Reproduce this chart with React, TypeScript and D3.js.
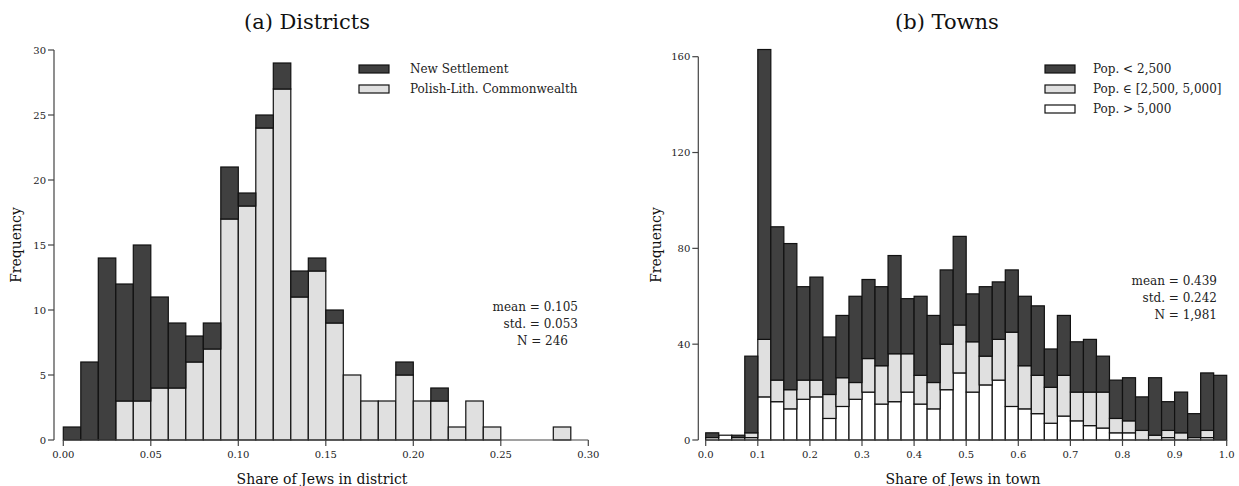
import React from 'react';
import * as d3 from 'd3';

// (a) Districts: 30 bins of width 0.01 on [0, 0.30]
const districtBinWidth = 0.01;
const districtPLC = [0, 0, 0, 3, 3, 4, 4, 6, 7, 17, 18, 24, 27, 11, 13, 9, 5, 3, 3, 5, 3, 3, 1, 3, 1, 0, 0, 0, 1, 0];
const districtNewSettlement = [1, 6, 14, 9, 12, 7, 5, 2, 2, 4, 1, 1, 2, 2, 1, 1, 0, 0, 0, 1, 0, 1, 0, 0, 0, 0, 0, 0, 0, 0];
const districtXTicks = [0, 0.05, 0.1, 0.15, 0.2, 0.25, 0.3];
const districtYTicks = [0, 5, 10, 15, 20, 25, 30];
const districtStats = ['mean = 0.105', 'std. = 0.053', 'N = 246'];

// (b) Towns: 40 bins of width 0.025 on [0, 1]
const townBinWidth = 0.025;
const townLarge = [1, 2, 1, 1, 18, 16, 13, 17, 18, 9, 14, 17, 20, 15, 16, 20, 15, 13, 21, 28, 20, 23, 25, 14, 13, 11, 7, 10, 8, 6, 5, 3, 3, 0, 0, 1, 0, 1, 1, 0];
const townMedium = [0, 0, 0, 2, 24, 9, 8, 8, 7, 10, 12, 7, 14, 16, 20, 16, 12, 11, 19, 20, 21, 12, 17, 31, 18, 16, 15, 17, 12, 14, 15, 6, 5, 4, 2, 3, 3, 0, 3, 0];
const townSmall = [2, 0, 1, 32, 121, 64, 61, 39, 43, 24, 26, 36, 33, 33, 41, 23, 33, 28, 31, 37, 20, 29, 24, 26, 29, 29, 16, 25, 21, 22, 15, 16, 18, 14, 24, 12, 17, 10, 24, 27];
const townXTicks = [0, 0.1, 0.2, 0.3, 0.4, 0.5, 0.6, 0.7, 0.8, 0.9, 1.0];
const townYTicks = [0, 40, 80, 120, 160];
const townStats = ['mean = 0.439', 'std. = 0.242', 'N = 1,981'];

const DARK = '#404040';
const LIGHT = '#e0e0e0';
const WHITE = '#ffffff';
const FONT = '"DejaVu Serif", "Liberation Serif", serif';

type Layer = { values: number[]; fill: string; label: string };

function Histogram({ layers, binWidth, x, y, spineX, xTicks, yTicks, xFormat, yTop }: any) {
  const n = layers[0].values.length;
  const bins = d3.range(n);
  const [y0] = y.range();
  const [xa, xb] = x.range();
  const cum = bins.map(() => 0);
  const rects: any[] = [];
  layers.forEach((layer: Layer, li: number) => {
    layer.values.forEach((v, i) => {
      if (v <= 0) return;
      const base = cum[i];
      cum[i] += v;
      rects.push(
        <rect
          key={`${li}-${i}`}
          x={x(i * binWidth)}
          width={x((i + 1) * binWidth) - x(i * binWidth)}
          y={y(base + v)}
          height={y(base) - y(base + v)}
          fill={layer.fill}
          stroke="#111"
          strokeWidth={1.2}
        />
      );
    });
  });
  return (
    <g>
      {rects}
      {/* x axis */}
      <line x1={xa} x2={xb} y1={y0} y2={y0} stroke="#444" strokeWidth={1.2} />
      {xTicks.map((t: number) => (
        <g key={t} transform={`translate(${x(t)},${y0})`}>
          <line y1={0} y2={6} stroke="#444" strokeWidth={1.2} />
          <text y={18} textAnchor="middle" fontSize={10} fill="#222" fontFamily={FONT}>
            {xFormat(t)}
          </text>
        </g>
      ))}
      {/* y axis */}
      <line x1={spineX} x2={spineX} y1={y0} y2={y(yTop)} stroke="#444" strokeWidth={1.2} />
      {yTicks.map((t: number) => (
        <g key={t} transform={`translate(${spineX},${y(t)})`}>
          <line x1={-6} x2={0} stroke="#444" strokeWidth={1.2} />
          <text x={-8} dy="0.35em" textAnchor="end" fontSize={10} fill="#222" fontFamily={FONT}>
            {t}
          </text>
        </g>
      ))}
    </g>
  );
}

function Legend({ layers, x, y, textX }: any) {
  return (
    <g>
      {layers.map((l: Layer, i: number) => (
        <g key={l.label} transform={`translate(0,${y + i * 20})`}>
          <rect x={x} y={-4} width={30} height={8} fill={l.fill} stroke="#111" strokeWidth={1.2} />
          <text x={textX} dy="0.35em" fontSize={12} fill="#222" fontFamily={FONT}>
            {l.label}
          </text>
        </g>
      ))}
    </g>
  );
}

export default function App() {
  const xa = d3.scaleLinear().domain([0, 0.3]).range([63.3, 588.3]);
  const ya = d3.scaleLinear().domain([0, 30]).range([440, 50]);
  const xb = d3.scaleLinear().domain([0, 1]).range([705.7, 1226.7]);
  const yb = d3.scaleLinear().domain([0, 160]).range([440, 56.7]);

  const districtLayers: Layer[] = [
    { values: districtPLC, fill: LIGHT, label: 'Polish-Lith. Commonwealth' },
    { values: districtNewSettlement, fill: DARK, label: 'New Settlement' },
  ];
  const townLayers: Layer[] = [
    { values: townLarge, fill: WHITE, label: 'Pop. > 5,000' },
    { values: townMedium, fill: LIGHT, label: 'Pop. \u2208 [2,500, 5,000]' },
    { values: townSmall, fill: DARK, label: 'Pop. < 2,500' },
  ];

  return (
    <svg width={1239} height={486} style={{ position: 'absolute', left: 0, top: 0, background: '#fff' }}>
      {/* (a) */}
      <text x={307} y={29} textAnchor="middle" fontSize={21} fill="#111" fontFamily={FONT}>(a) Districts</text>
      <Histogram
        layers={districtLayers}
        binWidth={districtBinWidth}
        x={xa}
        y={ya}
        spineX={54}
        xTicks={districtXTicks}
        yTicks={districtYTicks}
        xFormat={d3.format('.2f')}
        yTop={30}
      />
      <text x={322} y={484} textAnchor="middle" fontSize={14} fill="#111" fontFamily={FONT}>Share of Jews in district</text>
      <text transform="translate(21,245) rotate(-90)" textAnchor="middle" fontSize={14} fill="#111" fontFamily={FONT}>Frequency</text>
      <Legend layers={[...districtLayers].reverse()} x={359} y={69} textX={410} />
      {districtStats.map((s, i) => (
        <text key={s} x={i === 2 ? 568 : 578} y={307 + i * 17} dy="0.35em" textAnchor="end" fontSize={12} fill="#222" fontFamily={FONT}>{s}</text>
      ))}

      {/* (b) */}
      <text x={947} y={29} textAnchor="middle" fontSize={21} fill="#111" fontFamily={FONT}>(b) Towns</text>
      <Histogram
        layers={townLayers}
        binWidth={townBinWidth}
        x={xb}
        y={yb}
        spineX={698.3}
        xTicks={townXTicks}
        yTicks={townYTicks}
        xFormat={d3.format('.1f')}
        yTop={160}
      />
      <text x={963} y={484} textAnchor="middle" fontSize={14} fill="#111" fontFamily={FONT}>Share of Jews in town</text>
      <text transform="translate(661,245) rotate(-90)" textAnchor="middle" fontSize={14} fill="#111" fontFamily={FONT}>Frequency</text>
      <Legend layers={[...townLayers].reverse()} x={1045} y={69} textX={1093} />
      {townStats.map((s, i) => (
        <text key={s} x={1217} y={281 + i * 17} dy="0.35em" textAnchor="end" fontSize={12} fill="#222" fontFamily={FONT}>{s}</text>
      ))}
    </svg>
  );
}
